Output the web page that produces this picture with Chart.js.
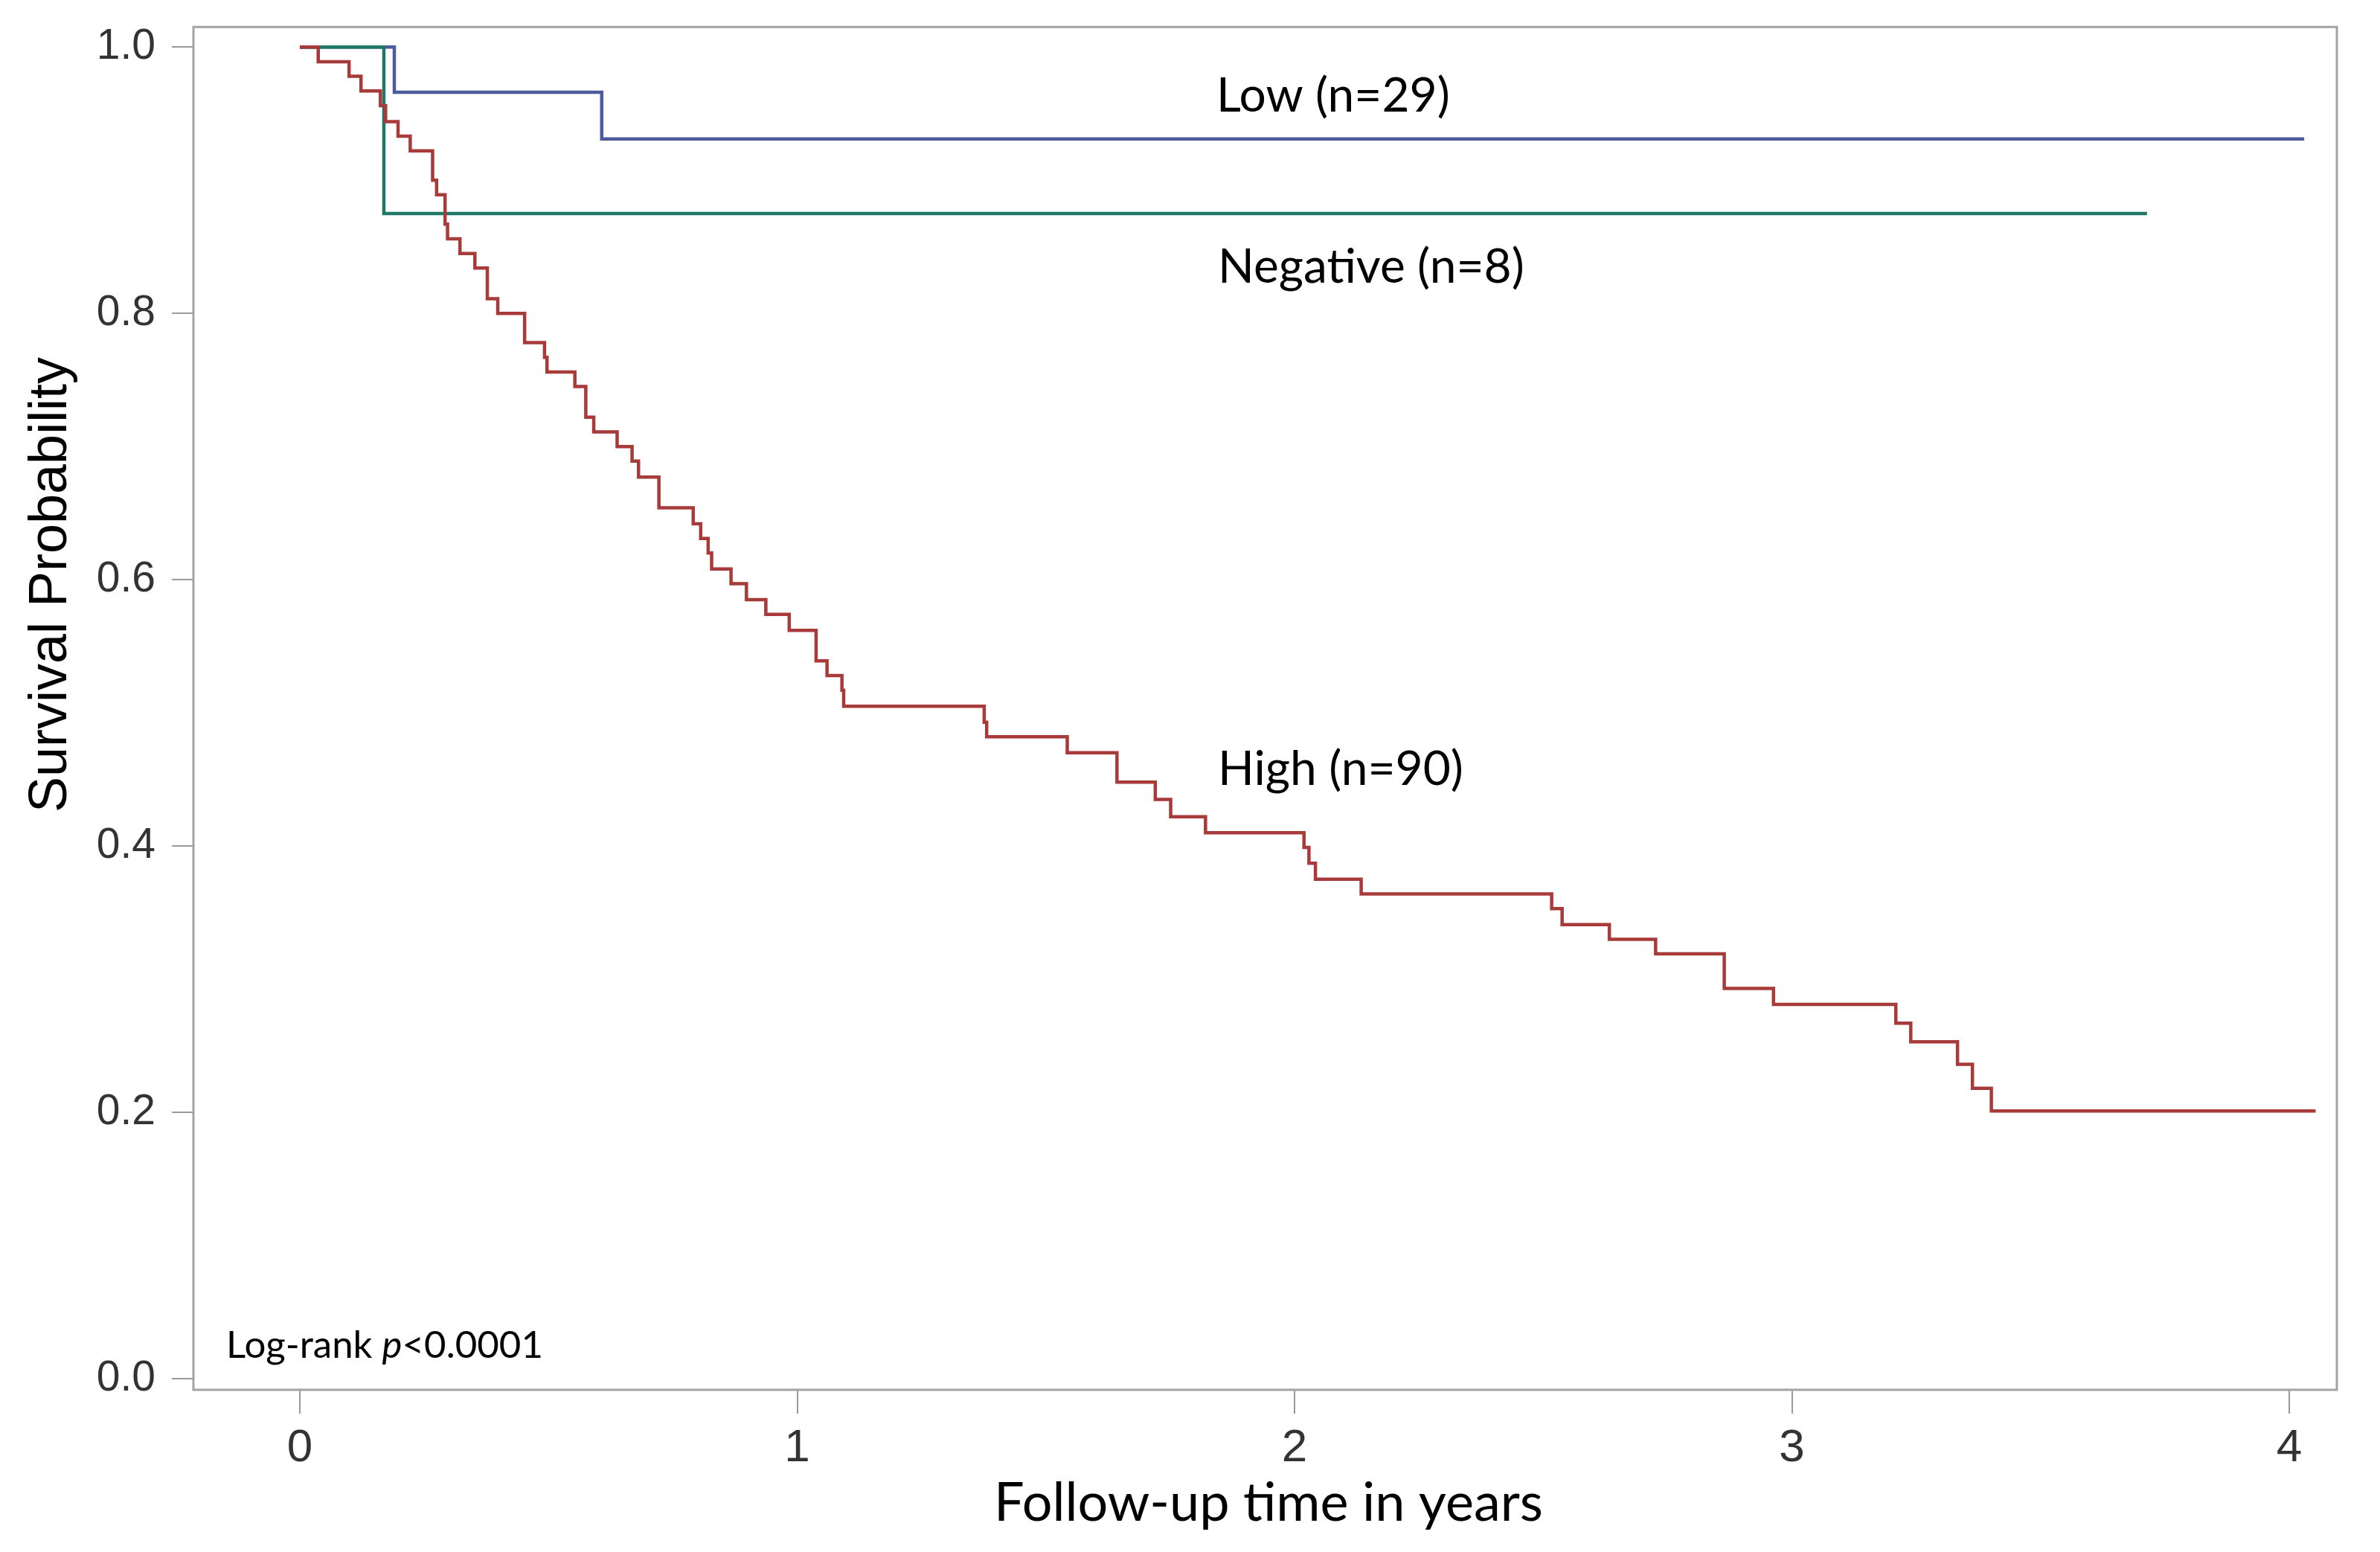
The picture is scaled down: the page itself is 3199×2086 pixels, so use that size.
<!DOCTYPE html>
<html><head><meta charset="utf-8">
<script src="https://cdn.jsdelivr.net/npm/chart.js@4.4.1/dist/chart.umd.min.js"></script>
<style>html,body{margin:0;padding:0;background:#fff;} canvas{display:block;}</style>
</head><body>
<canvas id="c" width="3199" height="2086"></canvas>
<script>
// ---- data ----
const lowTimes = [0, 0.19, 0.607, 4.03];
const lowSurv  = [1.0, 0.966, 0.931, 0.931];

const negTimes = [0, 0.169, 3.714];
const negSurv  = [1.0, 0.875, 0.875];

const highTimes = [0, 0.037, 0.099, 0.123, 0.162, 0.1725, 0.1975, 0.222, 0.267, 0.275, 0.292, 0.297,
  0.322, 0.352, 0.377, 0.398, 0.452, 0.492, 0.497, 0.553, 0.575, 0.591, 0.638, 0.668, 0.681,
  0.722, 0.791, 0.806, 0.821, 0.828, 0.867, 0.898, 0.937, 0.984, 1.038, 1.060, 1.090, 1.0935,
  1.376, 1.381, 1.543, 1.643, 1.720, 1.751, 1.821, 2.019, 2.029, 2.042, 2.134, 2.517, 2.538,
  2.633, 2.726, 2.864, 2.963, 3.209, 3.239, 3.333, 3.363, 3.401, 4.053];
const highSurv = [1.0, 0.989, 0.978, 0.967, 0.956, 0.944, 0.933, 0.922, 0.900, 0.889, 0.867, 0.856,
  0.845, 0.834, 0.811, 0.800, 0.778, 0.767, 0.756, 0.745, 0.722, 0.711, 0.700, 0.689, 0.677,
  0.654, 0.642, 0.631, 0.620, 0.608, 0.597, 0.585, 0.574, 0.562, 0.539, 0.528, 0.517, 0.505,
  0.493, 0.482, 0.470, 0.448, 0.435, 0.422, 0.410, 0.399, 0.387, 0.375, 0.364, 0.353, 0.341,
  0.330, 0.319, 0.293, 0.281, 0.267, 0.253, 0.236, 0.218, 0.201, 0.201];

const xTicks = [0, 1, 2, 3, 4];
const yTicks = [0.0, 0.2, 0.4, 0.6, 0.8, 1.0];
const groupLabels = ['Low (n=29)', 'Negative (n=8)', 'High (n=90)'];
const xTitle = 'Follow-up time in years';
const yTitle = 'Survival Probability';

// ---- helpers ----
const toPts = (ts, ss) => ts.map((t, i) => ({x: t, y: ss[i]}));

const decor = {
  id: 'decor',
  afterDraw(chart) {
    const {ctx, chartArea: a, scales: {x, y}} = chart;
    ctx.save();
    // frame
    ctx.strokeStyle = '#a3a3a3';
    ctx.lineWidth = 3;
    ctx.strokeRect(a.left, a.top, a.right - a.left, a.bottom - a.top);

    // group labels
    ctx.fillStyle = '#000';
    ctx.textAlign = 'left';
    ctx.textBaseline = 'alphabetic';
    ctx.font = '64px Lato';
    ctx.fillText(groupLabels[0], x.getPixelForValue(1.843), y.getPixelForValue(0.9515));
    ctx.fillText(groupLabels[1], x.getPixelForValue(1.846), y.getPixelForValue(0.8232));
    ctx.fillText(groupLabels[2], x.getPixelForValue(1.846), y.getPixelForValue(0.4456));

    // log-rank annotation
    ctx.font = '51px Lato';
    let lx = x.getPixelForValue(-0.148);
    const ly = y.getPixelForValue(0.0156);
    const p1 = 'Log-rank ';
    ctx.fillText(p1, lx, ly);
    lx += ctx.measureText(p1).width;
    ctx.font = 'italic 51px Lato';
    ctx.fillText('p', lx, ly);
    lx += ctx.measureText('p').width;
    ctx.font = '51px Lato';
    ctx.fillText('<0.0001', lx, ly);

    // axis titles
    ctx.font = '72px Lato';
    ctx.textAlign = 'center';
    ctx.fillText(xTitle, 1705, 2044);

    ctx.translate(89, 786);
    ctx.rotate(-Math.PI / 2);
    ctx.font = '72px "Liberation Sans"';
    ctx.fillText(yTitle, 0, 0);
    ctx.restore();
  }
};

new Chart(document.getElementById('c'), {
  type: 'line',
  data: {
    datasets: [
      {label: groupLabels[2], data: toPts(highTimes, highSurv), borderColor: '#a83a3a'},
      {label: groupLabels[1], data: toPts(negTimes, negSurv), borderColor: '#1f7767'},
      {label: groupLabels[0], data: toPts(lowTimes, lowSurv), borderColor: '#4d5a9c'}
    ].map(d => Object.assign(d, {stepped: true, borderWidth: 4.5, pointRadius: 0, fill: false, tension: 0}))
  },
  options: {
    responsive: false,
    animation: false,
    devicePixelRatio: 1,
    layout: {padding: {left: 0, right: 58, top: 33, bottom: 0}},
    plugins: {legend: {display: false}, tooltip: {enabled: false}},
    scales: {
      x: {
        type: 'linear',
        min: -0.2139, max: 4.0957,
        afterBuildTicks: s => { s.ticks = xTicks.map(v => ({value: v})); },
        afterFit: s => { s.height = 218; },
        grid: {drawOnChartArea: false, drawTicks: true, tickLength: 32, color: '#9a9a9a', lineWidth: 2},
        border: {display: false},
        ticks: {padding: 31, color: '#333', font: {family: '"Liberation Sans"', size: 62, lineHeight: 0.5}, callback: v => String(v)}
      },
      y: {
        type: 'linear',
        min: -0.00837, max: 1.01506,
        afterBuildTicks: s => { s.ticks = yTicks.map(v => ({value: v})); },
        afterFit: s => { s.width = 260; },
        grid: {drawOnChartArea: false, drawTicks: true, tickLength: 29, color: '#9a9a9a', lineWidth: 2},
        border: {display: false},
        ticks: {padding: 22, color: '#333', font: {family: '"Liberation Sans"', size: 57, lineHeight: 0.5}, callback: v => v.toFixed(1)}
      }
    }
  },
  plugins: [decor]
});
</script>
</body></html>
